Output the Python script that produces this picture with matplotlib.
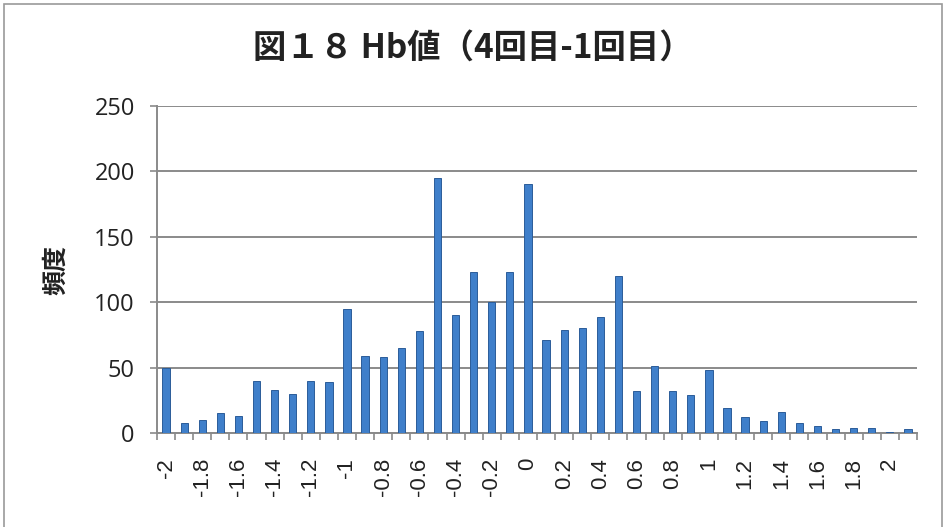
import matplotlib
matplotlib.use("Agg")
import matplotlib.pyplot as plt
from matplotlib.patches import Rectangle
import numpy as np

plt.rcParams['font.family'] = ['Noto Sans CJK JP', 'DejaVu Sans']

categories = [round(-2 + 0.1 * i, 1) for i in range(42)]
counts = [50, 8, 10, 15, 13, 40, 33, 30, 40, 39,
          95, 59, 58, 65, 78, 195, 90, 123, 100, 123,
          190, 71, 79, 80, 89, 120, 32, 51, 32, 29,
          48, 19, 12, 9, 16, 8, 5, 3, 4, 4,
          1, 3]
yticks = [0, 50, 100, 150, 200, 250]
title = "図１８ Hb値（4回目-1回目）"
ylabel = "頻度"

def fmt(v):
    s = f"{v:g}"
    return "0" if s in ("0", "-0") else s

fig = plt.figure(figsize=(9.44, 5.27), dpi=100)
ax = fig.add_axes([157/944, 1-433/527, (917-157)/944, (433-106)/527])

x = np.arange(len(categories))
ax.bar(x, counts, width=0.4, color='#3F7FCA', edgecolor='#2B5C99', linewidth=0.7, zorder=3)

ax.set_xlim(-0.5, len(categories) - 0.5)
ax.set_ylim(0, 250)
ax.set_yticks(yticks)
ax.set_yticklabels([str(v) for v in yticks], fontsize=17, family=['Open Sans', 'DejaVu Sans'], color='#222222')
ax.yaxis.grid(True, color='#8a8a8a', linewidth=1.4, zorder=0)
ax.tick_params(axis='y', length=5, width=1.2, color='#8a8a8a', pad=11)

# boundary ticks (major), labels on minor ticks at centers
ax.set_xticks(np.arange(len(categories) + 1) - 0.5)
ax.set_xticklabels([])
ax.tick_params(axis='x', which='major', length=5, width=1.2, color='#8a8a8a', direction='out')
lab_idx = list(range(0, len(categories), 2))
ax.set_xticks(lab_idx, minor=True)
ax.set_xticklabels([fmt(categories[i]) for i in lab_idx], minor=True, rotation=90,
                   fontsize=16, family=['Liberation Sans', 'DejaVu Sans'], color='#222222')
ax.tick_params(axis='x', which='minor', length=0, pad=18)

for s in ['top', 'right']:
    ax.spines[s].set_visible(False)
for s in ['left', 'bottom']:
    ax.spines[s].set_color('#8a8a8a')
    ax.spines[s].set_linewidth(1.4)

fig.text(473/944, 1-48/527, title, ha='center', va='center', fontsize=24, fontweight='bold', color='#222222')
fig.text(56/944, 1-270/527, ylabel, ha='center', va='center', rotation=90, fontsize=18, fontweight='bold', color='#222222')

fig.patches.append(Rectangle((4/944, -0.05), (942-4)/944, 1.05 - 4/527, transform=fig.transFigure,
                             fill=False, edgecolor='#9a9a9a', linewidth=1.2))

fig.savefig("out.png", dpi=100)
